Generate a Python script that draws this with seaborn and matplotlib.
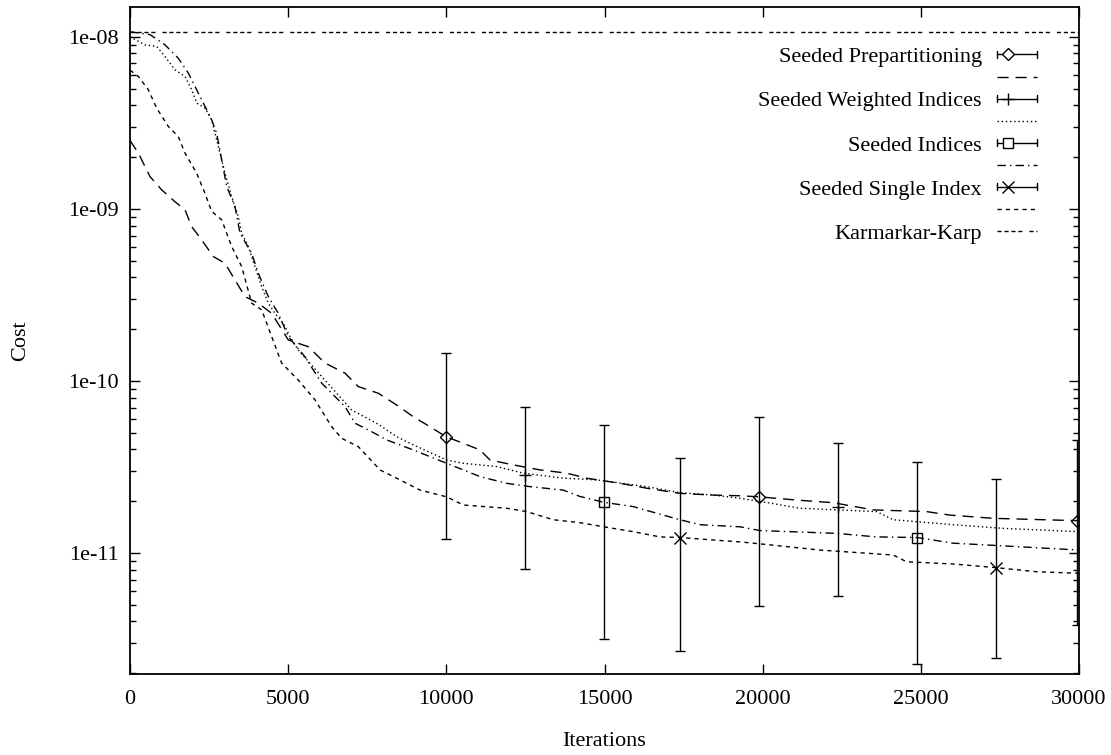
import matplotlib
matplotlib.use("Agg")
import numpy as np
import pandas as pd
import matplotlib.pyplot as plt
import seaborn as sns
from matplotlib.lines import Line2D
from matplotlib.legend_handler import HandlerBase
from matplotlib.ticker import FixedLocator, FuncFormatter, NullFormatter

# === DATA ===
SERIES = ["Seeded Prepartitioning", "Seeded Weighted Indices",
          "Seeded Indices", "Seeded Single Index"]
KK_LABEL = "Karmarkar-Karp"

prep_x = [0, 263, 632, 1001, 1422, 1739, 1950, 2266, 2635, 3003, 3319, 3635, 4056,
          4478, 5004, 5637, 6164, 6796, 7217, 7850, 8430, 8956, 9483, 9990, 10536,
          11063, 11380, 12117, 12960, 13804, 14436, 15490, 16333, 17387, 18441,
          19283, 19894, 21075, 22232, 23497, 25183, 25920, 27290, 30000]
prep_y = [2.5e-9, 2.11e-9, 1.54e-9, 1.29e-9, 1.10e-9, 9.87e-10, 7.89e-10, 6.6e-10,
          5.28e-10, 4.83e-10, 3.86e-10, 3.09e-10, 2.83e-10, 2.47e-10, 1.73e-10,
          1.58e-10, 1.27e-10, 1.11e-10, 9.27e-11, 8.48e-11, 7.24e-11, 6.19e-11,
          5.42e-11, 4.74e-11, 4.34e-11, 3.97e-11, 3.47e-11, 3.25e-11, 3.04e-11,
          2.91e-11, 2.72e-11, 2.54e-11, 2.38e-11, 2.22e-11, 2.17e-11, 2.15e-11,
          2.12e-11, 2.03e-11, 1.96e-11, 1.78e-11, 1.74e-11, 1.66e-11, 1.59e-11,
          1.54e-11]

weighted_x = [0, 474, 843, 1106, 1422, 1739, 1950, 2108, 2371, 2582, 2687, 2845,
              3003, 3214, 3424, 3530, 3740, 3951, 4162, 4372, 4583, 4846, 5057,
              5321, 6164, 7007, 7850, 8430, 8956, 10010, 10536, 11591, 12433,
              13698, 14752, 16333, 17387, 18441, 19283, 20230, 21180, 23602,
              24128, 26024, 27606, 30000]
weighted_y = [1.0e-8, 8.98e-9, 8.79e-9, 7.68e-9, 6.43e-9, 5.88e-9, 4.92e-9, 4.12e-9,
              3.85e-9, 3.29e-9, 2.75e-9, 2.11e-9, 1.61e-9, 1.18e-9, 9.02e-10,
              7.22e-10, 6.04e-10, 4.62e-10, 3.53e-10, 2.83e-10, 2.47e-10, 2.16e-10,
              1.81e-10, 1.51e-10, 1.01e-10, 6.78e-11, 5.6e-11, 4.74e-11, 4.25e-11,
              3.47e-11, 3.32e-11, 3.18e-11, 2.91e-11, 2.72e-11, 2.66e-11, 2.43e-11,
              2.24e-11, 2.17e-11, 2.08e-11, 1.95e-11, 1.82e-11, 1.74e-11, 1.56e-11,
              1.46e-11, 1.39e-11, 1.33e-11]

indices_x = [0, 632, 1106, 1528, 1844, 2108, 2371, 2582, 2740, 2898, 3056, 3319,
             3477, 3846, 4056, 4372, 4688, 5004, 5532, 6059, 6796, 7112, 7639,
             8114, 8956, 10010, 10536, 11063, 11907, 12644, 13698, 14225, 14984,
             15911, 16859, 17387, 18019, 19283, 19915, 22337, 23602, 24877, 26024,
             27606, 30000]
indices_y = [1.07e-8, 1.03e-8, 8.98e-9, 7.5e-9, 6.15e-9, 4.92e-9, 3.94e-9, 3.29e-9,
             2.75e-9, 1.93e-9, 1.35e-9, 1.03e-9, 7.22e-10, 5.52e-10, 4.22e-10,
             3.09e-10, 2.47e-10, 1.81e-10, 1.38e-10, 9.7e-11, 7.1e-11, 5.68e-11,
             5.07e-11, 4.54e-11, 3.97e-11, 3.32e-11, 3.04e-11, 2.78e-11, 2.54e-11,
             2.43e-11, 2.32e-11, 2.13e-11, 1.97e-11, 1.86e-11, 1.66e-11, 1.56e-11,
             1.46e-11, 1.42e-11, 1.35e-11, 1.30e-11, 1.24e-11, 1.23e-11, 1.14e-11,
             1.10e-11, 1.04e-11]

single_x = [0, 263, 580, 843, 1212, 1528, 1739, 2108, 2371, 2582, 2898, 3214, 3530,
            3846, 4162, 4478, 4794, 5321, 5848, 6375, 6691, 7217, 7903, 8535, 9167,
            10010, 10536, 11907, 12538, 13382, 14225, 15069, 15911, 16754, 17387,
            18441, 19283, 19915, 21812, 24128, 24549, 26024, 27374, 28656, 30000]
single_y = [6.4e-9, 5.88e-9, 4.92e-9, 3.85e-9, 3.01e-9, 2.63e-9, 2.11e-9, 1.61e-9,
            1.23e-9, 9.66e-10, 8.63e-10, 6.04e-10, 4.62e-10, 2.83e-10, 2.59e-10,
            1.81e-10, 1.27e-10, 1.01e-10, 7.76e-11, 5.42e-11, 4.64e-11, 4.15e-11,
            3.04e-11, 2.66e-11, 2.32e-11, 2.12e-11, 1.90e-11, 1.82e-11, 1.74e-11,
            1.56e-11, 1.50e-11, 1.41e-11, 1.33e-11, 1.24e-11, 1.23e-11, 1.19e-11,
            1.16e-11, 1.13e-11, 1.04e-11, 9.73e-12, 8.89e-12, 8.63e-12, 8.22e-12,
            7.78e-12, 7.62e-12]

kk_x = [0, 30000]
kk_y = [1.07e-8, 1.07e-8]

# error bars: position, mean, low, high
eb_x = {"Seeded Prepartitioning": [9990, 19894, 29925],
        "Seeded Weighted Indices": [12486, 22391],
        "Seeded Indices": [14984, 24888],
        "Seeded Single Index": [17387, 27374]}
eb_mean = {"Seeded Prepartitioning": [4.74e-11, 2.12e-11, 1.54e-11],
           "Seeded Weighted Indices": [2.84e-11, 1.85e-11],
           "Seeded Indices": [1.97e-11, 1.23e-11],
           "Seeded Single Index": [1.23e-11, 8.22e-12]}
eb_low = {"Seeded Prepartitioning": [1.21e-11, 4.94e-12, 3.81e-12],
          "Seeded Weighted Indices": [8.04e-12, 5.65e-12],
          "Seeded Indices": [3.16e-12, 2.27e-12],
          "Seeded Single Index": [2.69e-12, 2.44e-12]}
eb_high = {"Seeded Prepartitioning": [1.46e-10, 6.19e-11, 4.54e-11],
           "Seeded Weighted Indices": [7.03e-11, 4.38e-11],
           "Seeded Indices": [5.57e-11, 3.36e-11],
           "Seeded Single Index": [3.56e-11, 2.69e-11]}

x_ticks = [0, 5000, 10000, 15000, 20000, 25000, 30000]
y_ticks = [1e-11, 1e-10, 1e-9, 1e-8]

# === STYLE ===
DASHES = {"Seeded Prepartitioning": (8, 5),
          "Seeded Weighted Indices": (1, 2),
          "Seeded Indices": (6, 3, 1, 3),
          "Seeded Single Index": (3, 3),
          KK_LABEL: (3, 2, 3, 2, 3, 2, 3, 5)}
MARKERS = {"Seeded Prepartitioning": "D",
           "Seeded Weighted Indices": "+",
           "Seeded Indices": "s",
           "Seeded Single Index": "x"}
MSIZE = {"D": 6.5, "+": 9, "s": 7, "x": 8}
YLIM = (1.98e-12, 1.49e-8)


class ErrBarHandler(HandlerBase):
    """gnuplot style |--o---| legend sample"""
    def create_artists(self, legend, orig_handle, xdescent, ydescent,
                       width, height, fontsize, trans):
        x0, x1 = -xdescent, -xdescent + width
        yc = -ydescent + height / 2
        cap = 2.6
        arts = [Line2D([x0, x1], [yc, yc], color="black", lw=1),
                Line2D([x0, x0], [yc - cap, yc + cap], color="black", lw=1),
                Line2D([x1, x1], [yc - cap, yc + cap], color="black", lw=1)]
        mk = orig_handle.get_marker()
        arts.append(Line2D([x0 + 0.28 * width], [yc], ls="none", marker=mk,
                           ms=MSIZE[mk], mfc="white", mec="black", mew=1))
        for a in arts:
            a.set_transform(trans)
        return arts


def main():
    sns.set_theme(style="ticks")
    plt.rcParams["font.family"] = ["Liberation Serif", "DejaVu Serif"]
    plt.rcParams["font.size"] = 16
    plt.rcParams["text.color"] = "black"
    plt.rcParams["axes.labelcolor"] = "black"
    plt.rcParams["xtick.color"] = "black"
    plt.rcParams["ytick.color"] = "black"

    fig = plt.figure(figsize=(11.11, 7.55), dpi=100)
    ax = fig.add_axes([130 / 1111, 81 / 755, 949 / 1111, 667 / 755])

    curves = {"Seeded Prepartitioning": (prep_x, prep_y),
              "Seeded Weighted Indices": (weighted_x, weighted_y),
              "Seeded Indices": (indices_x, indices_y),
              "Seeded Single Index": (single_x, single_y),
              KK_LABEL: (kk_x, kk_y)}
    df = pd.concat([pd.DataFrame({"Iterations": xs, "Cost": ys, "run": name})
                    for name, (xs, ys) in curves.items()], ignore_index=True)

    sns.lineplot(data=df, x="Iterations", y="Cost", style="run", dashes=DASHES,
                 color="black", lw=1.0, estimator=None, legend=False, ax=ax)

    for name in SERIES:
        m = np.array(eb_mean[name])
        yerr = [m - np.array(eb_low[name]), np.array(eb_high[name]) - m]
        mk = MARKERS[name]
        ax.errorbar(eb_x[name], m, yerr=yerr, fmt=mk, ms=MSIZE[mk], mfc="none",
                    mec="black", mew=1, ecolor="black", elinewidth=1,
                    capsize=3.6, capthick=1, zorder=3)

    ax.set_yscale("log")
    ax.set_xlim(0, 30000)
    ax.set_ylim(*YLIM)

    minor = [s * 10.0 ** e for e in range(-12, -7) for s in range(2, 10)]
    minor = [v for v in minor if YLIM[0] <= v <= YLIM[1]]
    ax.xaxis.set_major_locator(FixedLocator(x_ticks))
    ax.xaxis.set_major_formatter(FuncFormatter(lambda v, p: f"{int(v)}"))
    ax.yaxis.set_major_locator(FixedLocator(y_ticks))
    ax.yaxis.set_minor_locator(FixedLocator(minor))
    ax.yaxis.set_major_formatter(FuncFormatter(lambda v, p: f"{v:.0e}"))
    ax.yaxis.set_minor_formatter(NullFormatter())

    ax.tick_params(which="both", direction="in", top=True, right=True,
                   labelsize=16, width=1)
    ax.tick_params(axis="y", pad=8)
    ax.tick_params(axis="x", pad=11.5)
    ax.tick_params(which="major", length=7)
    ax.tick_params(which="minor", length=4)
    for sp in ax.spines.values():
        sp.set_color("black")
        sp.set_linewidth(1.3)

    ax.set_xlabel("Iterations", fontsize=16)
    ax.set_ylabel("Cost", fontsize=16)
    ax.xaxis.set_label_coords(0.5, -0.087)
    ax.yaxis.set_label_coords(-0.105, 0.5)

    # legend: each run has an errorbar entry and an unlabelled line entry
    handles, labels, hmap = [], [], {}
    for name in SERIES:
        h = Line2D([], [], color="black", marker=MARKERS[name])
        hmap[h] = ErrBarHandler()
        handles.append(h)
        labels.append(name)
        handles.append(Line2D([], [], color="black", lw=1, ls=(0, DASHES[name])))
        labels.append("")
    handles.append(Line2D([], [], color="black", lw=1, ls=(0, DASHES[KK_LABEL])))
    labels.append(KK_LABEL)

    ax.legend(handles, labels, handler_map=hmap, loc="upper right",
              bbox_to_anchor=(0.9557, 0.9405), frameon=False, markerfirst=False,
              handlelength=1.8, handletextpad=0.68, labelspacing=0.068,
              borderpad=0, borderaxespad=0, fontsize=16)

    fig.savefig("out.png", dpi=100)
    plt.close(fig)


if __name__ == "__main__":
    main()
